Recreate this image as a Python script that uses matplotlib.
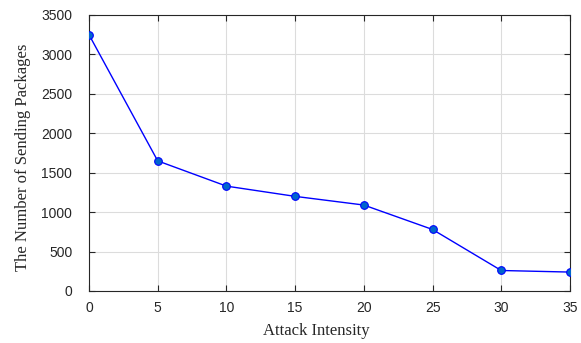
import matplotlib
matplotlib.use('Agg')
import matplotlib.pyplot as plt

intensity = [0, 5, 10, 15, 20, 25, 30, 35]
packages = [3250, 1650, 1330, 1200, 1090, 780, 260, 240]
xticks = [0, 5, 10, 15, 20, 25, 30, 35]
yticks = [0, 500, 1000, 1500, 2000, 2500, 3000, 3500]

fig = plt.figure(figsize=(5.81, 3.43), dpi=100)
ax = fig.add_axes([89/581, 1 - 291/343, 481/581, 276/343])

ax.plot(intensity, packages, '-o', color='blue', linewidth=1,
        markersize=5.5, markerfacecolor='#0066cc', markeredgecolor='blue',
        markeredgewidth=0.8, zorder=3)

ax.set_xlim(0, 35)
ax.set_ylim(0, 3500)
ax.set_xticks(xticks)
ax.set_yticks(yticks)
ax.grid(True, color='#dcdcdc', linewidth=0.8)
ax.set_axisbelow(True)
ax.tick_params(direction='in', top=True, right=True, length=4, width=0.8,
               colors='#262626', labelsize=10)
ax.tick_params(axis='x', pad=7)
ax.tick_params(axis='y', pad=12)
for lbl in ax.get_xticklabels() + ax.get_yticklabels():
    lbl.set_family('Liberation Sans')
for s in ax.spines.values():
    s.set_color('#262626')
    s.set_linewidth(0.8)

ax.set_xlabel('Attack Intensity', family='Liberation Serif', fontsize=12,
              color='#262626')
ax.set_ylabel('The Number of Sending Packages', family='Liberation Serif',
              fontsize=12, color='#262626')
ax.xaxis.set_label_coords(0.472, -0.115)
ax.yaxis.set_label_coords(-0.121, 0.486)

fig.savefig('out.png', dpi=100)
